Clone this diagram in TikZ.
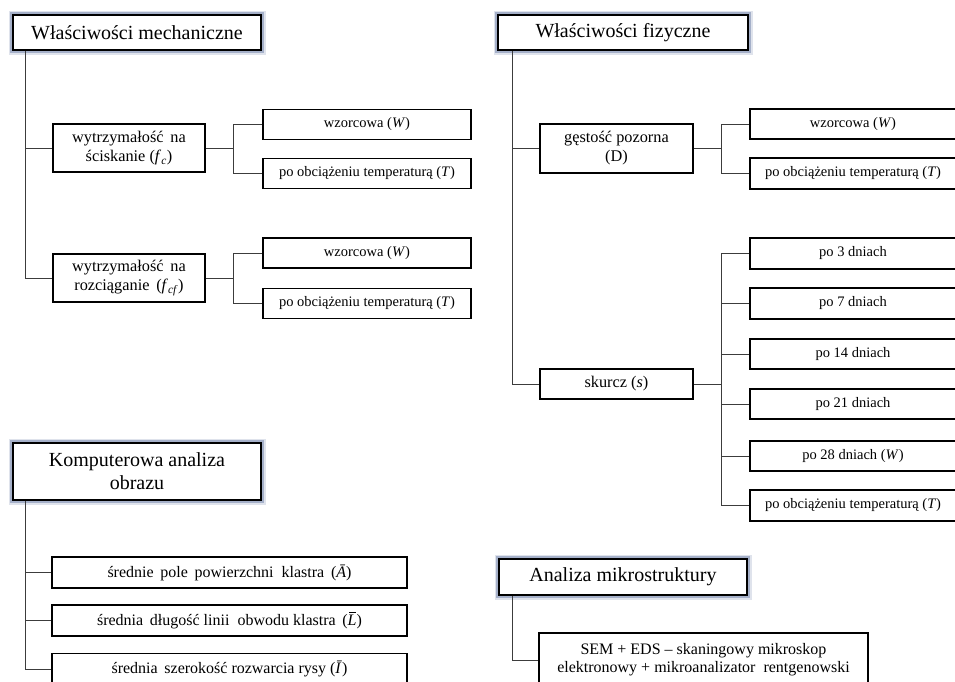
\documentclass[tikz,border=0pt]{standalone}
\usepackage{fontspec}
\setmainfont{Liberation Serif}
\definecolor{glow}{RGB}{95,115,160}
\definecolor{linec}{RGB}{60,60,60}
\newcommand{\Lbar}{\textit{L}\llap{\raisebox{12pt}{\rule{7pt}{0.6pt}}\hspace{0.5pt}}}
\begin{document}
\begin{tikzpicture}[x=1pt,y=-1pt,
  box/.style={draw=black, line width=1.4pt, fill=white, align=center, inner sep=0pt,
    font=\fontsize{14.5}{17}\selectfont},
  sub/.style={box, font=\fontsize{16.3}{19}\selectfont},
  kbox/.style={box, font=\fontsize{16}{19}\selectfont},
  head/.style={draw=black, line width=1.6pt, fill=white, align=center, inner sep=0pt,
    font=\fontsize{20}{23}\selectfont,
    preaction={draw=glow, line width=9pt, draw opacity=0.2},
    preaction={draw=glow, line width=5.5pt, draw opacity=0.45}},
  conn/.style={draw=linec, line width=0.9pt}]
\useasboundingbox (0,0) rectangle (955,681);
\fill[white] (0,0) rectangle (955,681);
\clip (0,0) rectangle (955,681);

% ---------- headers
\node[head, minimum width=248pt, minimum height=35pt] (h1) at (137,32.5) {Właściwości mechaniczne};
\node[head, minimum width=250pt, minimum height=35pt] (h2) at (623,32.5) {Właściwości fizyczne};
\node[head, minimum width=248pt, minimum height=57pt] (h3) at (137,471.5) {Komputerowa analiza\\obrazu};
\node[head, minimum width=248pt, minimum height=36pt] (h4) at (623,577) {Analiza mikrostruktury};

% ---------- mechanical
\node[sub, minimum width=152pt, minimum height=48pt] (ws) at (129,148) {wytrzymałość \,na\\ściskanie (\textit{f}\textsubscript{\textit{c}})};
\node[sub, minimum width=152pt, minimum height=48pt] (wr) at (129,278) {wytrzymałość \,na\\rozciąganie \,(\textit{f}\textsubscript{\textit{cf}})};
\node[box, minimum width=208pt, minimum height=30pt] (c1) at (367,124.5) {wzorcowa (\textit{W})};
\node[box, minimum width=208pt, minimum height=30pt] (c2) at (367,173.5) {po obciążeniu temperaturą (\textit{T})};
\node[box, minimum width=208pt, minimum height=30pt] (c3) at (367,253) {wzorcowa (\textit{W})};
\node[box, minimum width=208pt, minimum height=30pt] (c4) at (367,303.5) {po obciążeniu temperaturą (\textit{T})};

\coordinate (t1) at (25,0);
\coordinate (b1) at (233,0);
\draw[conn] (t1 |- h1.south) -- (t1 |- wr.west) -- (wr.west);
\draw[conn] (t1 |- ws.west) -- (ws.west);
\draw[conn] (ws.east) -- (b1 |- ws.east);
\draw[conn] (c1.west) -- (b1 |- c1.west) -- (b1 |- c2.west) -- (c2.west);
\draw[conn] (wr.east) -- (b1 |- wr.east);
\draw[conn] (c3.west) -- (b1 |- c3.west) -- (b1 |- c4.west) -- (c4.west);

% ---------- physical
\node[sub, minimum width=153pt, minimum height=49pt] (gp) at (616.5,148.5) {gęstość pozorna\\(D)};
\node[sub, minimum width=153pt, minimum height=30pt] (sk) at (616.5,384) {skurcz (\textit{s})};
\node[box, minimum width=212pt, minimum height=30pt] (d1) at (856,124) {\hspace*{-6pt}wzorcowa (\textit{W})};
\node[box, minimum width=212pt, minimum height=31pt] (d2) at (856,173.5) {\hspace*{-6pt}po obciążeniu temperaturą (\textit{T})};
\node[box, minimum width=212pt, minimum height=31pt] (s1) at (856,253.5) {\hspace*{-6pt}po 3 dniach};
\node[box, minimum width=212pt, minimum height=31pt] (s2) at (856,303.5) {\hspace*{-6pt}po 7 dniach};
\node[box, minimum width=212pt, minimum height=30pt] (s3) at (856,354) {\hspace*{-6pt}po 14 dniach};
\node[box, minimum width=212pt, minimum height=30pt] (s4) at (856,404) {\hspace*{-6pt}po 21 dniach};
\node[box, minimum width=212pt, minimum height=30pt] (s5) at (856,456) {\hspace*{-6pt}po 28 dniach (\textit{W})};
\node[box, minimum width=212pt, minimum height=31pt] (s6) at (856,505.5) {\hspace*{-6pt}po obciążeniu temperaturą (\textit{T})};

\coordinate (t2) at (512,0);
\coordinate (b2) at (721,0);
\draw[conn] (t2 |- h2.south) -- (t2 |- sk.west) -- (sk.west);
\draw[conn] (t2 |- gp.west) -- (gp.west);
\draw[conn] (gp.east) -- (b2 |- gp.east);
\draw[conn] (d1.west) -- (b2 |- d1.west) -- (b2 |- d2.west) -- (d2.west);
\draw[conn] (sk.east) -- (b2 |- sk.east);
\draw[conn] (s1.west) -- (b2 |- s1.west) -- (b2 |- s6.west) -- (s6.west);
\foreach \n in {s2,s3,s4,s5} \draw[conn] (\n.west) -- (b2 |- \n.west);

% ---------- image analysis
\node[kbox, minimum width=355pt, minimum height=31pt] (k1) at (229.5,572.5) {średnie \,pole \,powierzchni \ klastra \,(\textit{Ā})};
\node[kbox, minimum width=355pt, minimum height=31pt] (k2) at (229.5,620.5) {średnia \,długość linii \ obwodu klastra \,(\Lbar)};
\node[kbox, minimum width=355pt, minimum height=31pt] (k3) at (229.5,669) {średnia \,szerokość rozwarcia rysy (\textit{Ī})};
\coordinate (t3) at (25,0);
\draw[conn] (t3 |- h3.south) -- (t3 |- k3.west) -- (k3.west);
\draw[conn] (t3 |- k1.west) -- (k1.west);
\draw[conn] (t3 |- k2.west) -- (k2.west);

% ---------- microstructure
\node[box, font=\fontsize{16}{18}\selectfont, minimum width=329pt, minimum height=54pt] (sem) at (703.5,660) {SEM + EDS -- skaningowy mikroskop\\elektronowy + mikroanalizator \ rentgenowski};
\coordinate (t4) at (512,0);
\draw[conn] (t4 |- h4.south) -- (t4 |- sem.west) -- (sem.west);
\end{tikzpicture}
\end{document}
